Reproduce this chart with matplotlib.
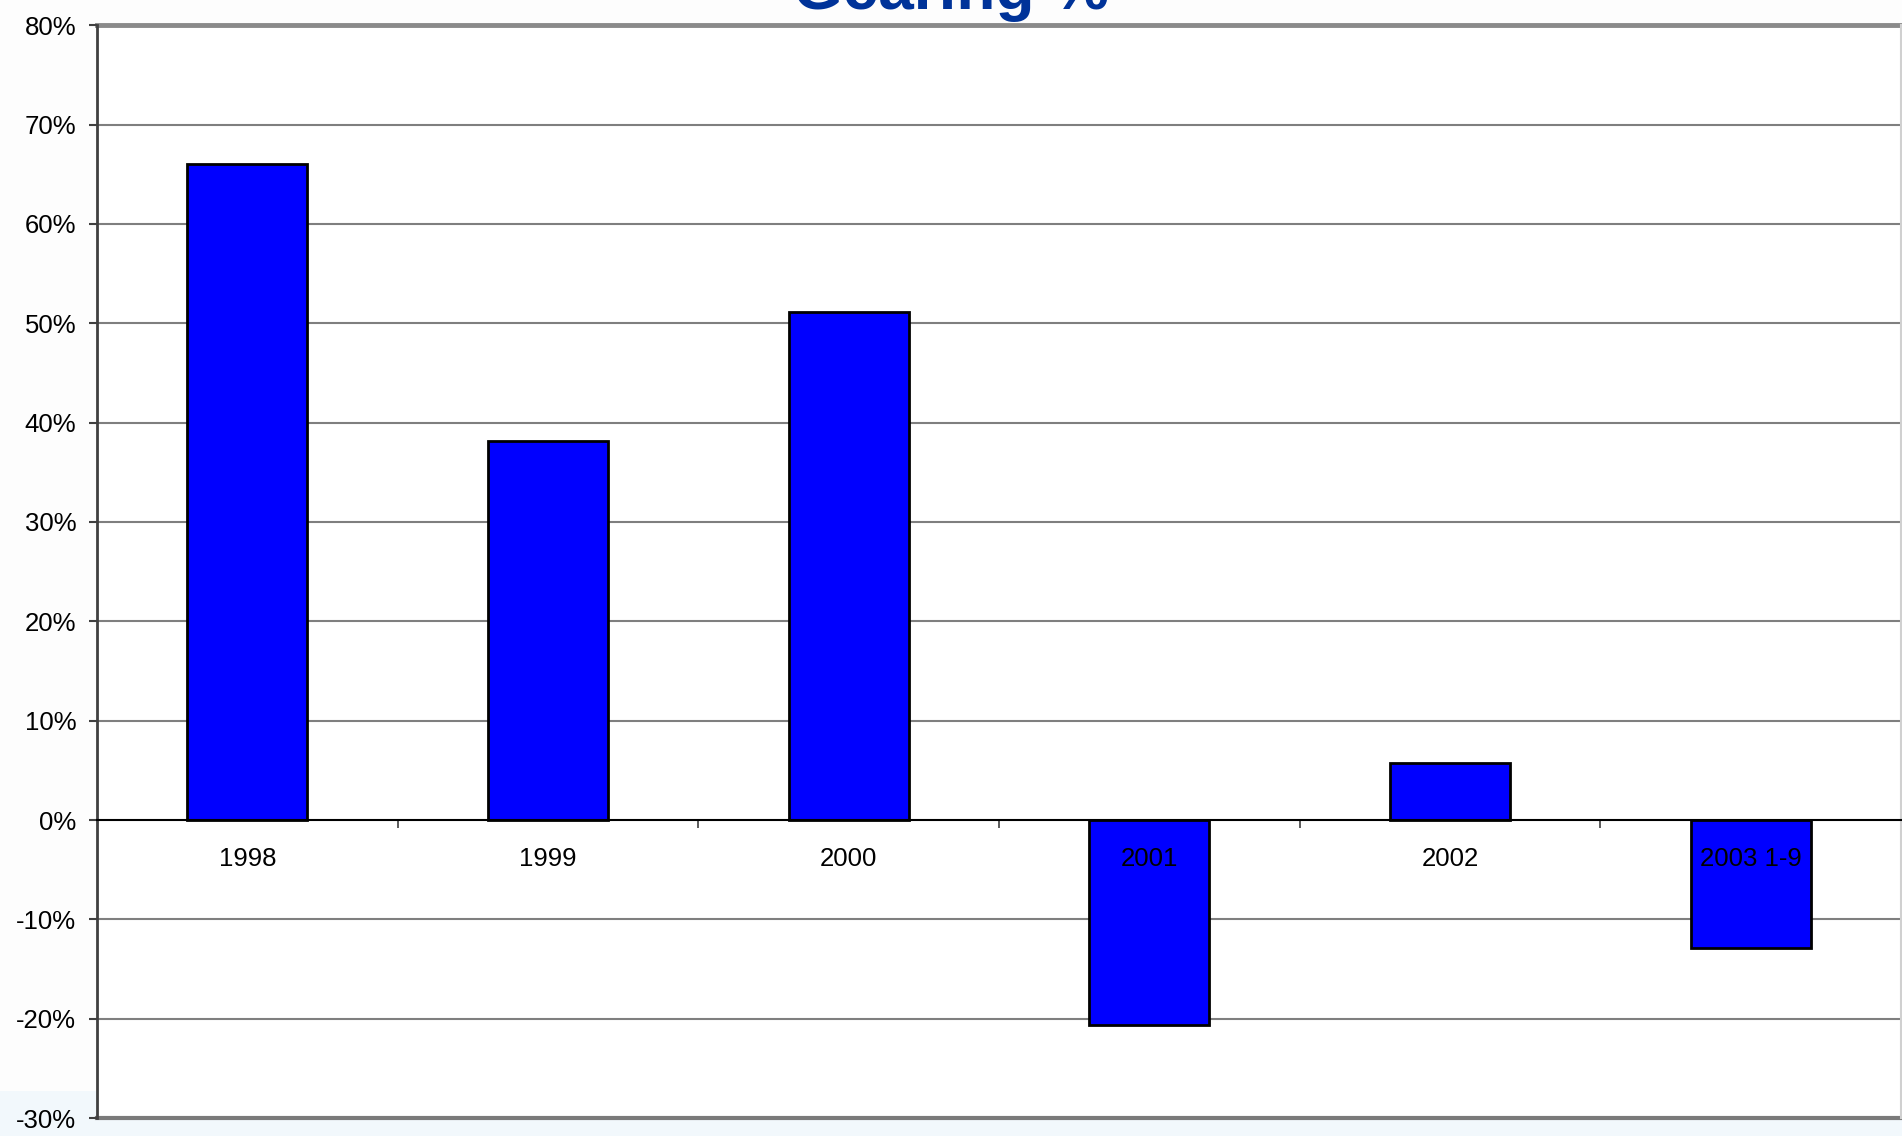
"""
Gearing % bar chart.
"""

import matplotlib

matplotlib.use("Agg")
import matplotlib.pyplot as plt
import numpy as np
from matplotlib.ticker import FuncFormatter, FixedLocator

plt.rcParams["font.family"] = ["Liberation Sans", "DejaVu Sans"]
plt.rcParams["axes.unicode_minus"] = False

# Data
years = ["1998", "1999", "2000", "2001", "2002", "2003 1-9"]
gearing = [66.0, 38.1, 51.1, -20.6, 5.7, -12.9]  # percent
y_ticks = [-30, -20, -10, 0, 10, 20, 30, 40, 50, 60, 70, 80]

fig = plt.figure(figsize=(19.02, 11.36), dpi=100, facecolor="#fdfdfd")

# faint slide background strip at the bottom
fig.patches.append(
    plt.Rectangle((0, 0), 1, 0.04, transform=fig.transFigure,
                  facecolor="#f2f8fc", edgecolor="none", zorder=-5)
)

ax = fig.add_axes([0.051, 0.0158, 0.9485, 0.962])
ax.set_facecolor("white")

x = np.arange(len(years))
ax.bar(x, gearing, width=0.4, color="#0000ff", edgecolor="black",
       linewidth=2, zorder=1)

# horizontal gridlines behind the bars
for t in y_ticks:
    if t in (0, -30, 80):
        continue
    ax.axhline(t, color="#7f7f7f", linewidth=1.5, zorder=0.5)
ax.axhline(80, color="#8a8a8a", linewidth=3.5, zorder=0.6, clip_on=False)
ax.axhline(-30, color="#7a7a7a", linewidth=3, zorder=0.6, clip_on=False)

ax.set_xlim(-0.5, 5.5)
ax.set_ylim(-30, 80)

# category axis sits on the zero line
ax.spines["bottom"].set_position(("data", 0))
ax.spines["bottom"].set_color("black")
ax.spines["bottom"].set_linewidth(1.5)
ax.spines["top"].set_visible(False)
ax.spines["right"].set_color("#d0d0d0")
ax.spines["right"].set_linewidth(1.5)
ax.spines["left"].set_color("#404040")
ax.spines["left"].set_linewidth(2)

ax.set_xticks(x)
ax.set_xticklabels(years, fontsize=18.5)
ax.xaxis.set_minor_locator(FixedLocator(np.arange(0.5, 5.0, 1.0)))
ax.tick_params(axis="x", which="major", length=0, pad=19.5)
ax.tick_params(axis="x", which="minor", length=6, width=1.2, color="#404040")

ax.set_yticks(y_ticks)
ax.yaxis.set_major_formatter(FuncFormatter(lambda v, _: f"{v:.0f}%"))
ax.tick_params(axis="y", length=6, width=1.5, color="#404040", pad=9,
               labelsize=18.5)

fig.text(0.5, 1 - 9 / 1136, "Gearing %", ha="center", va="baseline",
         fontsize=46, fontweight="bold", color="#003399")

fig.savefig("out.png", dpi=100, facecolor=fig.get_facecolor())
